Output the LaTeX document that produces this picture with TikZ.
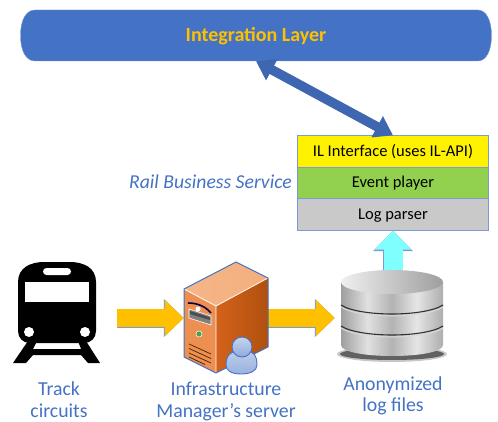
\documentclass[tikz,border=0pt]{standalone}
\usepackage{fontspec}
\setmainfont{Carlito}
\usetikzlibrary{arrows.meta}
\definecolor{ilblue}{HTML}{4472C4}
\definecolor{linkblue}{HTML}{3F66B0}
\definecolor{edgeblue}{HTML}{7C9BD6}
\definecolor{arrowyellow}{HTML}{FFC000}
\definecolor{arrowcyan}{HTML}{80FFFF}
\definecolor{playgreen}{HTML}{92D050}
\definecolor{parsegrey}{HTML}{C9C9C9}
\definecolor{servertop}{HTML}{F4AE7C}
\definecolor{serverfront}{HTML}{EE8F52}
\definecolor{serverlit}{HTML}{D4621A}
\definecolor{serverdark}{HTML}{B0500F}
\pgfdeclarehorizontalshading{dbside}{100bp}{color(0bp)=(black!38); color(25bp)=(black!38); color(38bp)=(black!12); color(50bp)=(black!30); color(62bp)=(black!10); color(75bp)=(black!32); color(100bp)=(black!32)}
\tikzset{
  ilbox/.style={minimum width=471pt,minimum height=51pt,inner sep=0pt,text height=12pt,text depth=0pt,text=arrowyellow,font=\fontsize{20}{24}\selectfont\bfseries},
  stackbox/.style={draw=edgeblue,line width=0.8pt,minimum width=191pt,minimum height=31.5pt,inner sep=0pt,text height=10pt,text depth=0pt,font=\fontsize{16.5}{20}\selectfont},
  iconbox/.style={inner sep=0pt},
  caption/.style={align=center,text=ilblue,inner sep=0pt,font=\fontsize{19.8}{21.5}\selectfont},
  yellowarrow/.style={line width=18pt,draw=arrowyellow,-{Triangle[length=19pt,width=35pt]},preaction={draw=edgeblue,line width=19pt,-{Triangle[length=20pt,width=37pt]}}},
  cyanarrow/.style={line width=19pt,draw=arrowcyan,-{Triangle[length=19pt,width=36pt]},preaction={draw=edgeblue,line width=20.5pt,-{Triangle[length=20.5pt,width=38.5pt]}}},
  linkarrow/.style={line width=9.5pt,draw=linkblue,{Triangle[length=18pt,width=23pt]}-{Triangle[length=18pt,width=23pt]}},
  serverline/.style={draw=black!75!orange,line width=0.7pt}
}
\begin{document}
\begin{tikzpicture}[x=1pt,y=-1pt]
  \useasboundingbox (0,0) rectangle (498,422);

  \draw[edgeblue,fill=ilblue] (20.5,35.5) .. controls (20.5,20) and (26,10) .. (35,10) -- (478,10) .. controls (486,10) and (491.5,20) .. (491.5,35.5) .. controls (491.5,51) and (486,61) .. (478,61) -- (35,61) .. controls (26,61) and (20.5,51) .. (20.5,35.5) -- cycle;
  \node[ilbox] (il) at (256,35.5) {Integration Layer};
  \node[stackbox,fill=yellow] (ifbox) at (393,151.5) {IL Interface (uses IL-API)};
  \node[stackbox,fill=playgreen] (player) at (393,183) {Event player};
  \node[stackbox,fill=parsegrey] (parser) at (393,214.5) {Log parser};
  \node[text=ilblue,font=\fontsize{19.7}{23}\selectfont\itshape,anchor=base east,inner sep=0pt] (rail) at (292,189) {Rail Business Service};

  \node[iconbox,minimum width=86pt,minimum height=102pt] (train) at (57,312) {};
  \node[iconbox,minimum width=84pt,minimum height=114pt] (server) at (226,318) {};
  \node[iconbox,minimum width=116pt,minimum height=96pt] (logdb) at (393,318) {};

  \draw[linkarrow] (il.south) -- (ifbox.north);
  \draw[yellowarrow,shorten <=17pt] (train.east |- server.west) -- (server.west);
  \draw[yellowarrow] (server.east) -- (logdb.west);
  \draw[cyanarrow] (logdb.north) -- (parser.south);

  % train
  \fill[black] (18,282) .. controls (18,268) and (30,262) .. (44,262) -- (70,262) .. controls (84,262) and (96,268) .. (96,282) -- (96,331) .. controls (96,338) and (91,343) .. (84,343) -- (30,343) .. controls (23,343) and (18,338) .. (18,331) -- cycle;
  \fill[black] (28,341) -- (13,363) -- (26,363) -- (33,355) -- (81,355) -- (88,363) -- (100,363) -- (86,341) -- (78,341) -- (81,349) -- (33,349) -- (37,341) -- cycle;
  \fill[white] (25,282) rectangle (89,302);
  \fill[white,rounded corners=3.5pt] (43,268) rectangle (71,275);
  \fill[white] (29,332) circle (5) (85,332) circle (5);

  % server
  \shade[left color=servertop!90!white,right color=servertop] (184,289) -- (236,262) -- (268,278) -- (216,306) -- cycle;
  \fill[serverfront] (184,289) -- (216,306) -- (216,373) -- (184,357) -- cycle;
  \shade[left color=serverlit,right color=serverdark] (216,306) -- (268,278) -- (268,347) -- (216,373) -- cycle;
  \draw[white,line width=0.8pt] (184,289) -- (216,306) -- (268,278) (216,306) -- (216,373);
  \draw[ilblue,line width=1pt,line join=round] (184,289) -- (236,262) -- (268,278) -- (268,347) -- (216,373) -- (184,357) -- cycle;
  \draw[black!70!blue,line width=1.6pt] (188,303) .. controls (197,303) and (205,306) .. (211,313);
  \fill[white] (198,309) circle (2.5);
  \fill[black!50,draw=white,line width=0.6pt] (189,309) -- (211,316) -- (211,325) -- (189,318) -- cycle;
  \fill[black!70] (190,311) -- (210,317.5) -- (210,320) -- (190,314) -- cycle;
  \fill[green!45!black!70!white,draw=white,line width=0.5pt] (199,334) circle (3);
  \draw[serverline] (189,344) -- (211,354) (189,348.5) -- (211,358.5) (189,353) -- (211,363) (189,357) -- (205,364.5);

  % person on the server
  \draw[ilblue,line width=0.9pt,top color=ilblue!35!white,bottom color=ilblue!55!white] (226,365) .. controls (226,354) and (232,352) .. (236,351) -- (248,351) .. controls (253,352) and (257,355) .. (257,365) .. controls (257,371) and (250,374) .. (241,374) .. controls (232,374) and (226,371) .. (226,365) -- cycle;
  \draw[ilblue,line width=0.9pt,top color=ilblue!30!white,bottom color=ilblue!60!white] (242,347) circle (10);

  % database
  \fill[black!22] (392,354) ellipse (55 and 8);
  \fill[black!62] (392,354) ellipse (52 and 6);
  \shade[shading=dbside] (341,282) -- (341,345) .. controls (341,352) and (365,356) .. (392,356) .. controls (419,356) and (443,352) .. (443,345) -- (443,282) -- cycle;
  \shade[left color=black!6,right color=black!38] (392,282) ellipse (51 and 12);
  \draw[white!85!black,line width=1pt] (341,307) .. controls (350,313) and (372,316) .. (392,316) .. controls (412,316) and (434,313) .. (443,307);
  \draw[black!80,line width=1.1pt] (341,305) .. controls (350,311) and (372,314) .. (392,314) .. controls (412,314) and (434,311) .. (443,305);
  \draw[white!85!black,line width=1pt] (341,328) .. controls (350,334) and (372,337) .. (392,337) .. controls (412,337) and (434,334) .. (443,328);
  \draw[black!80,line width=1.1pt] (341,326) .. controls (350,332) and (372,335) .. (392,335) .. controls (412,335) and (434,332) .. (443,326);

  \node[caption,anchor=base] (trackcap) at (59,417) {Track\\circuits};
  \node[caption,anchor=base] (servercap) at (226,417) {Infrastructure\\Manager’s server};
  \node[caption,anchor=base] (logcap) at (393,411.5) {Anonymized\\log files};
\end{tikzpicture}
\end{document}
